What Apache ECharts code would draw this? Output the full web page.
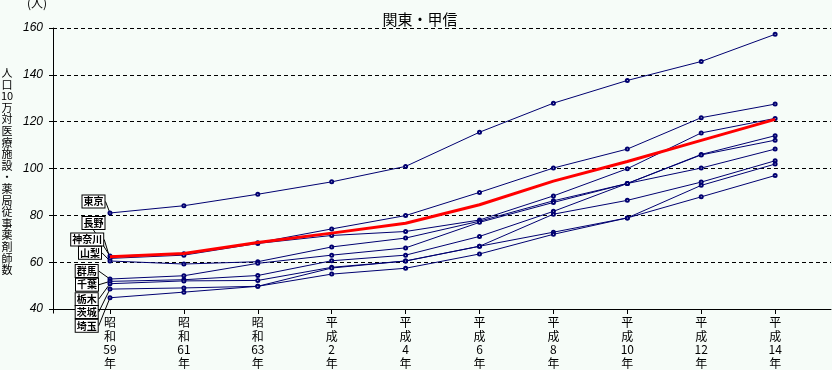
<!DOCTYPE html>
<html>
<head>
<meta charset="utf-8">
<script src="https://cdn.jsdelivr.net/npm/echarts@6/dist/echarts.min.js"></script>
<style>
html,body{margin:0;padding:0;background:#f6fcf8;}
#c{width:832px;height:370px;}
</style>
</head>
<body>
<div id="c"></div>
<script>
const categories = ['昭和59年','昭和61年','昭和63年','平成2年','平成4年','平成6年','平成8年','平成10年','平成12年','平成14年'];
const yTicks = [40, 60, 80, 100, 120, 140, 160];
const prefNames = ['東京','長野','神奈川','山梨','群馬','千葉','栃木','茨城','埼玉'];
const tokyo    = [81.0, 84.1, 89.0, 94.3, 100.9, 115.5, 127.9, 137.6, 145.7, 157.3];
const nagano   = [62.6, 63.6, 68.3, 74.2, 79.9, 89.8, 100.2, 108.3, 121.7, 127.5];
const kanagawa = [61.6, 63.0, 68.0, 71.4, 73.1, 78.0, 88.3, 99.9, 115.2, 121.4];
const yamanashi= [60.5, 59.2, 60.2, 66.5, 70.3, 77.5, 86.2, 93.6, 106.0, 114.0];
const gunma    = [52.8, 54.2, 59.5, 63.0, 66.1, 77.0, 85.5, 93.6, 105.8, 112.1];
const chiba    = [51.8, 52.5, 54.3, 60.6, 63.0, 71.0, 81.7, 93.6, 100.2, 108.3];
const tochigi  = [50.8, 52.0, 52.2, 57.8, 60.5, 66.8, 80.5, 86.4, 94.2, 103.3];
const ibaraki  = [48.5, 49.0, 49.7, 57.5, 60.5, 66.8, 72.8, 78.9, 92.8, 101.9];
const saitama  = [44.8, 47.2, 49.7, 54.9, 57.4, 63.5, 71.9, 78.9, 87.9, 97.0];
const zenkoku  = [62.3, 63.7, 68.4, 72.4, 76.6, 84.5, 94.6, 103.0, 112.0, 121.0];
const prefValues = [tokyo, nagano, kanagawa, yamanashi, gunma, chiba, tochigi, ibaraki, saitama];

// label box anchor positions (annotation layout, px)
const labelPos = [[93.5,201.5],[93.5,223],[87.2,239.5],[90,252.8],[86.7,271],[87,284.7],[86.7,299.2],[86.7,312],[86.7,325.8]];

const NAVY = '#000070';
const JP = '"Noto Sans CJK JP", sans-serif';

const chart = echarts.init(document.getElementById('c'), null, {renderer:'canvas'});

const series = prefValues.map((vals, s) => ({
  name: prefNames[s],
  type: 'line',
  symbol: 'emptyCircle',
  symbolSize: 3,
  showSymbol: true,
  lineStyle: {color: NAVY, width: 1},
  itemStyle: {color: NAVY, borderWidth: 0.8},
  emphasis: {disabled: true},
  z: 3,
  data: vals.map((v, i) => i === 0 ? {
    value: [i, v],
    label: {
      show: true,
      formatter: prefNames[s],
      color: '#000',
      fontFamily: JP,
      fontSize: 10,
      fontWeight: 'bold',
      lineHeight: 11,
      backgroundColor: '#ffffff',
      borderColor: '#000',
      borderWidth: 1,
      padding: [1, 1, 0, 1]
    },
    labelLine: {show: true, lineStyle: {color: '#000', width: 1}}
  } : [i, v]),
  labelLayout: function (p) {
    if (p.dataIndex !== 0) return {};
    return {x: labelPos[s][0], y: labelPos[s][1], align: 'center', verticalAlign: 'middle'};
  }
}));

series.push({
  name: '全国',
  type: 'line',
  showSymbol: false,
  symbol: 'none',
  lineStyle: {color: '#ff0000', width: 3},
  emphasis: {disabled: true},
  z: 5,
  data: zenkoku.map((v, i) => [i, v])
});

const catIdx = categories.map((c, i) => i);

chart.setOption({
  backgroundColor: '#f6fcf8',
  animation: false,
  title: {
    text: '関東・甲信',
    left: 415, top: 7, textAlign: 'center',
    textStyle: {fontFamily: JP, fontSize: 15, fontWeight: 'normal', color: '#000'}
  },
  grid: {left: 53, right: 1, top: 28, bottom: 57, containLabel: false},
  xAxis: {
    type: 'value',
    min: -0.771, max: 9.756,
    axisLine: {show: true, onZero: false, lineStyle: {color: '#000', width: 1}},
    splitLine: {show: false},
    axisTick: {show: true, customValues: catIdx, length: 5, lineStyle: {color: '#000'}},
    axisLabel: {
      customValues: catIdx,
      margin: 7,
      color: '#000',
      fontFamily: JP,
      fontSize: 12,
      lineHeight: 13.5,
      verticalAlign: 'top',
      formatter: function (v) {
        const c = categories[Math.round(v)];
        if (!c) return '';
        const era = c.slice(0, 2), num = c.slice(2, c.length - 1);
        return era[0] + '\n' + era[1] + '\n' + num + '\n年';
      }
    }
  },
  yAxis: {
    type: 'value',
    position: 'left',
    min: yTicks[0], max: yTicks[yTicks.length - 1], interval: 20,
    axisLine: {show: true, onZero: false, lineStyle: {color: '#000', width: 1}},
    axisTick: {show: true, length: 4, lineStyle: {color: '#000'}},
    axisLabel: {
      margin: 10, color: '#000', fontSize: 12, fontStyle: 'italic',
      fontFamily: '"Liberation Sans", Arial, sans-serif'
    },
    splitLine: {show: true, lineStyle: {color: '#000', type: [4, 3], width: 1}}
  },
  graphic: [
    {type: 'line', z: 100, shape: {x1: 53.5, y1: 28, x2: 53.5, y2: 313.5}, style: {stroke: '#000', lineWidth: 1}},
    {type: 'text', left: 27, top: -3, style: {text: '(人)', fontSize: 12, fontFamily: JP, fill: '#000'}},
    {type: 'text', x: 7, y: 67, style: {
      text: ['人','口','10','万','対','医','療','施','設','・','薬','局','従','事','薬','剤','師','数'].join('\n'),
      fontSize: 11, lineHeight: 11.6, fontFamily: JP, fill: '#000', align: 'center', verticalAlign: 'top'
    }}
  ],
  series: series
});
</script>
</body>
</html>
